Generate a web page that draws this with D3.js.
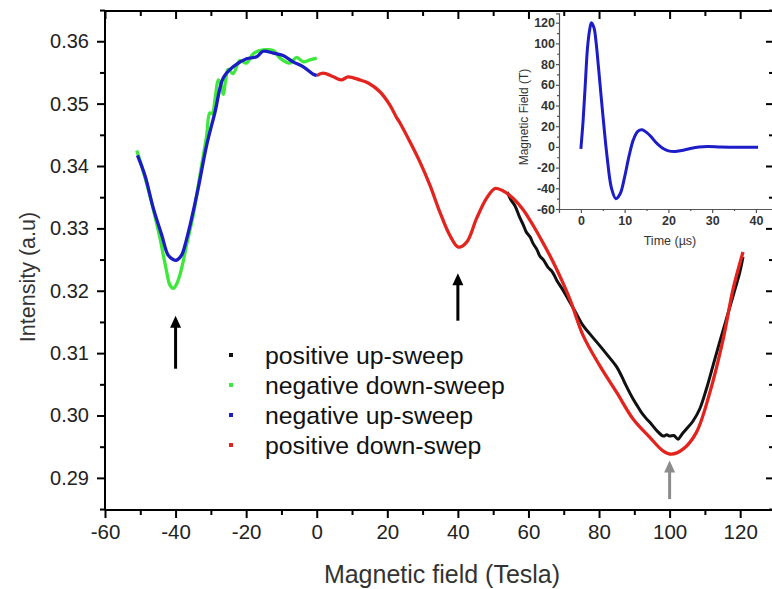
<!DOCTYPE html>
<html>
<head>
<meta charset="utf-8">
<script src="https://cdn.jsdelivr.net/npm/d3@7"></script>
<style>
    body { margin: 0; background: #fff; }
    text { font-family: Arial, 'Liberation Sans', sans-serif; }
</style>
</head>
<body>
<div id="chart"></div>
<script>
// [field (T), intensity]
const posUpSweep = [
    [54.0, 0.3358], [55.0, 0.3346], [56.2, 0.3336], [57.5, 0.3318], [58.5, 0.3306],
    [59.4, 0.3294], [60.5, 0.3286], [61.3, 0.3276], [62.4, 0.3266], [63.2, 0.3256],
    [64.3, 0.3249], [65.5, 0.3238], [66.8, 0.3230], [68.0, 0.3217], [69.8, 0.3201],
    [71.7, 0.3182], [73.5, 0.3164], [75.5, 0.3144], [77.8, 0.3128], [80.2, 0.3112],
    [82.5, 0.3096], [85.0, 0.3078], [86.5, 0.3062], [87.5, 0.3050], [89.7, 0.3026],
    [91.0, 0.3014], [92.0, 0.3005], [93.4, 0.2995], [94.4, 0.2989], [96.5, 0.2975],
    [98.2, 0.2967], [99.2, 0.2969], [100.0, 0.2967], [101.2, 0.2968], [102.4, 0.2962],
    [103.5, 0.2970], [104.7, 0.2978], [106.5, 0.2990], [108.5, 0.3010], [110.4, 0.3042],
    [112.3, 0.3080], [114.2, 0.3118], [116.1, 0.3155], [118.0, 0.3192], [119.9, 0.3230],
    [120.8, 0.3254]
];
const negDownSweep = [
    [-51.0, 0.3425], [-49.5, 0.3398], [-47.3, 0.3353], [-45.8, 0.3318], [-44.4, 0.3284],
    [-43.4, 0.3255], [-42.5, 0.3230], [-41.6, 0.3209], [-40.6, 0.3204], [-39.6, 0.3212],
    [-38.8, 0.3225], [-37.8, 0.3248], [-36.9, 0.3273], [-35.0, 0.3321], [-33.1, 0.3385],
    [-31.2, 0.3449], [-30.3, 0.3485], [-29.6, 0.3484], [-28.8, 0.3508], [-27.9, 0.3538],
    [-27.2, 0.3532], [-26.5, 0.3515], [-25.8, 0.3538], [-25.1, 0.3555], [-23.7, 0.3548],
    [-21.8, 0.3569], [-19.9, 0.3565], [-18.0, 0.3580], [-15.2, 0.3586], [-12.3, 0.3585],
    [-10.4, 0.3573], [-7.6, 0.3565], [-5.7, 0.3574], [-3.8, 0.3567], [-1.9, 0.3570],
    [0.0, 0.3573]
];
const negUpSweep = [
    [-50.8, 0.3417], [-48.7, 0.3385], [-46.3, 0.3332], [-43.9, 0.3289], [-42.1, 0.3257],
    [-40.7, 0.3250], [-39.7, 0.3249], [-38.3, 0.3257], [-37.0, 0.3280], [-35.9, 0.3305],
    [-33.6, 0.3364], [-31.2, 0.3433], [-28.8, 0.3487], [-26.5, 0.3541], [-23.7, 0.3559],
    [-19.9, 0.3572], [-17.0, 0.3575], [-15.2, 0.3584], [-12.3, 0.3581], [-9.5, 0.3577],
    [-6.7, 0.3567], [-3.8, 0.3559], [-1.0, 0.3547], [0.0, 0.3545]
];
const posDownSweep = [
    [0.0, 0.3545], [1.8, 0.3549], [4.7, 0.3543], [7.1, 0.3538], [8.9, 0.3543],
    [12.2, 0.3538], [14.6, 0.3533], [17.9, 0.3519], [20.7, 0.3498], [22.6, 0.3478],
    [23.6, 0.3469], [26.4, 0.3439], [29.2, 0.3407], [32.1, 0.3369], [34.9, 0.3326],
    [37.7, 0.3289], [40.1, 0.3270], [42.5, 0.3278], [45.3, 0.3316], [48.1, 0.3348],
    [50.5, 0.3364], [52.5, 0.3361], [55.7, 0.3348], [58.5, 0.3330], [61.3, 0.3305],
    [64.2, 0.3276], [67.0, 0.3246], [71.7, 0.3187], [75.5, 0.3128], [80.2, 0.3080],
    [85.0, 0.3037], [89.7, 0.2994], [94.4, 0.2965], [98.2, 0.2943], [100.5, 0.2938],
    [103.8, 0.2946], [107.6, 0.2973], [111.4, 0.3037], [115.2, 0.3123], [118.0, 0.3203],
    [120.8, 0.3262]
];

// inset: [time (us), field (T)]
const pulse = [
    [0, -2], [0.5, 25], [1, 60], [1.5, 95], [2, 113], [2.4, 120], [3, 115], [3.5, 100],
    [4, 78], [5, 32], [6, -10], [7, -40], [8, -50], [9, -45], [10, -29], [11, -9],
    [12, 7], [13, 15], [14, 16.5], [15, 14], [16, 10], [17, 5], [18, 1], [19, -2],
    [20, -3.8], [21.5, -4.5], [23, -3.5], [25, -1.5], [27, 0], [29, 0.5], [32, 0],
    [36, -0.3], [40.5, -0.3]
];

const seriesNames = ['positive up-sweep', 'negative down-sweep', 'negative up-sweep', 'positive down-swep'];
const seriesColors = ['#111111', '#3ee83a', '#1c1cc4', '#e3231d'];

// arrows: field, tail intensity, tip intensity
const arrows = [
    { x: -40, from: 0.3075, to: 0.3160, color: '#000' },
    { x: 40, from: 0.3152, to: 0.3228, color: '#000' },
    { x: 100, from: 0.2866, to: 0.2928, color: '#8c8c8c' }
];

const W = 772;
const H = 589;
const margin = { top: 11, right: -1, bottom: 79, left: 105 };

const svg = d3
    .select('#chart')
    .append('svg')
    .attr('width', W)
    .attr('height', H);

const x = d3.scaleLinear().domain([-60, 129.3]).range([margin.left, W - margin.right]);
const y = d3.scaleLinear().domain([0.28485, 0.36485]).range([H - margin.bottom, margin.top]);

const xMajor = d3.range(-60, 121, 20);
const xMinor = d3.range(-50, 130, 20);
const yMajor = d3.range(0.29, 0.3601, 0.01);
const yMinor = d3.range(0.285, 0.365, 0.01);

// frame
const frame = svg.append('g').attr('stroke', '#000').attr('stroke-width', 2);
frame.append('line').attr('x1', x(-60)).attr('x2', x(-60)).attr('y1', y.range()[1]).attr('y2', y.range()[0]);
frame.append('line').attr('x1', x(-60)).attr('x2', W + 2).attr('y1', y.range()[0]).attr('y2', y.range()[0]);
frame.append('line').attr('x1', x(-60)).attr('x2', W + 2).attr('y1', y.range()[1]).attr('y2', y.range()[1]);
frame.append('line').attr('x1', x.range()[1]).attr('x2', x.range()[1]).attr('y1', y.range()[1]).attr('y2', y.range()[0]);

// bottom axis
svg.append('g')
    .attr('transform', 'translate(0,' + y.range()[0] + ')')
    .call(d3.axisBottom(x).tickValues(xMajor).tickSize(8).tickPadding(6).tickFormat(d3.format('d')))
    .call(g => g.select('.domain').remove())
    .call(g => g.selectAll('line').attr('stroke-width', 2))
    .call(g => g.selectAll('text').attr('font-size', 20.5).attr('fill', '#222').text(d => String(d)));
svg.append('g')
    .attr('transform', 'translate(0,' + y.range()[0] + ')')
    .call(d3.axisBottom(x).tickValues(xMinor).tickSize(5).tickFormat(''))
    .call(g => g.select('.domain').remove())
    .call(g => g.selectAll('line').attr('stroke-width', 2));

// top axis, ticks inward
svg.append('g')
    .attr('transform', 'translate(0,' + y.range()[1] + ')')
    .call(d3.axisBottom(x).tickValues(xMajor).tickSize(8).tickFormat(''))
    .call(g => g.select('.domain').remove())
    .call(g => g.selectAll('line').attr('stroke-width', 2));
svg.append('g')
    .attr('transform', 'translate(0,' + y.range()[1] + ')')
    .call(d3.axisBottom(x).tickValues(xMinor).tickSize(5).tickFormat(''))
    .call(g => g.select('.domain').remove())
    .call(g => g.selectAll('line').attr('stroke-width', 2));

// left axis
svg.append('g')
    .attr('transform', 'translate(' + x.range()[0] + ',0)')
    .call(d3.axisLeft(y).tickValues(yMajor).tickSize(8).tickPadding(8).tickFormat(d3.format('.2f')))
    .call(g => g.select('.domain').remove())
    .call(g => g.selectAll('line').attr('stroke-width', 2))
    .call(g => g.selectAll('text').attr('font-size', 20).attr('fill', '#222'));
svg.append('g')
    .attr('transform', 'translate(' + x.range()[0] + ',0)')
    .call(d3.axisLeft(y).tickValues(yMinor).tickSize(5).tickFormat(''))
    .call(g => g.select('.domain').remove())
    .call(g => g.selectAll('line').attr('stroke-width', 2));

// right axis, ticks inward
svg.append('g')
    .attr('transform', 'translate(' + x.range()[1] + ',0)')
    .call(d3.axisLeft(y).tickValues(yMajor).tickSize(7).tickFormat(''))
    .call(g => g.select('.domain').remove())
    .call(g => g.selectAll('line').attr('stroke-width', 2));
svg.append('g')
    .attr('transform', 'translate(' + x.range()[1] + ',0)')
    .call(d3.axisLeft(y).tickValues(yMinor).tickSize(4).tickFormat(''))
    .call(g => g.select('.domain').remove())
    .call(g => g.selectAll('line').attr('stroke-width', 2));

// axis titles
svg.append('text')
    .attr('x', 442)
    .attr('y', 583)
    .attr('text-anchor', 'middle')
    .attr('font-size', 25)
    .attr('fill', '#333')
    .text('Magnetic field (Tesla)');
svg.append('text')
    .attr('transform', 'translate(35,277) rotate(-90)')
    .attr('text-anchor', 'middle')
    .attr('font-size', 21.5)
    .attr('fill', '#333')
    .text('Intensity (a.u)');

// curves
const line = d3
    .line()
    .x(d => x(d[0]))
    .y(d => y(d[1]))
    .curve(d3.curveCatmullRom.alpha(0.5));

const drawOrder = [
    { data: posUpSweep, i: 0, w: 3 },
    { data: posDownSweep, i: 3, w: 3.3 },
    { data: negDownSweep, i: 1, w: 3.3 },
    { data: negUpSweep, i: 2, w: 3.3 }
];
svg.append('g')
    .selectAll('path')
    .data(drawOrder)
    .enter()
    .append('path')
    .attr('d', d => line(d.data))
    .attr('fill', 'none')
    .attr('stroke', d => seriesColors[d.i])
    .attr('stroke-width', d => d.w)
    .attr('stroke-linejoin', 'round');

// arrows
const arrowG = svg.append('g');
arrows.forEach(a => {
    const ax = x(a.x);
    const tip = y(a.to);
    arrowG.append('line')
        .attr('x1', ax).attr('x2', ax)
        .attr('y1', y(a.from)).attr('y2', tip + 8)
        .attr('stroke', a.color)
        .attr('stroke-width', 3);
    arrowG.append('path')
        .attr('d', 'M' + ax + ',' + tip + 'L' + (ax - 5.5) + ',' + (tip + 12) + 'L' + (ax + 5.5) + ',' + (tip + 12) + 'Z')
        .attr('fill', a.color);
});

// legend
const legend = svg.append('g').attr('transform', 'translate(231,355)');
const rows = legend
    .selectAll('g')
    .data(seriesNames)
    .enter()
    .append('g')
    .attr('transform', (_d, i) => 'translate(0,' + i * 30 + ')');
rows.append('rect')
    .attr('x', -2)
    .attr('y', -2)
    .attr('width', 4)
    .attr('height', 4)
    .attr('fill', (_d, i) => seriesColors[i]);
rows.append('text')
    .attr('x', 34)
    .attr('dy', '0.35em')
    .attr('font-size', 24.8)
    .attr('fill', '#111')
    .text(d => d);

// inset
const ix = d3.scaleLinear().domain([-5, 44.5]).range([559, 775.6]);
const iy = d3.scaleLinear().domain([-60, 129]).range([209, 13.4]);
const inset = svg.append('g');
const insetColor = '#555';

inset.append('g')
    .attr('transform', 'translate(0,' + iy(-60) + ')')
    .call(d3.axisBottom(ix).tickValues(d3.range(0, 41, 10)).tickSize(4).tickPadding(3))
    .call(g => g.select('.domain').attr('stroke', insetColor).attr('stroke-width', 1.2))
    .call(g => g.selectAll('line').attr('stroke', insetColor).attr('stroke-width', 1.2))
    .call(g => g.selectAll('text').attr('font-size', 12.5).attr('font-weight', 'bold').attr('fill', '#333'));
inset.append('g')
    .attr('transform', 'translate(0,' + iy(-60) + ')')
    .call(d3.axisBottom(ix).tickValues(d3.range(5, 45, 10)).tickSize(2).tickFormat(''))
    .call(g => g.select('.domain').remove())
    .call(g => g.selectAll('line').attr('stroke', insetColor).attr('stroke-width', 1.2));
inset.append('g')
    .attr('transform', 'translate(' + ix(-5) + ',0)')
    .call(d3.axisLeft(iy).tickValues(d3.range(-60, 121, 20)).tickSize(3).tickPadding(1))
    .call(g => g.select('.domain').attr('stroke', insetColor).attr('stroke-width', 1.2))
    .call(g => g.selectAll('line').attr('stroke', insetColor).attr('stroke-width', 1.2))
    .call(g => g.selectAll('text').attr('font-size', 12.5).attr('font-weight', 'bold').attr('fill', '#333').text(d => String(d)));
inset.append('g')
    .attr('transform', 'translate(' + ix(-5) + ',0)')
    .call(d3.axisLeft(iy).tickValues(d3.range(-50, 121, 20)).tickSize(2).tickFormat(''))
    .call(g => g.select('.domain').remove())
    .call(g => g.selectAll('line').attr('stroke', insetColor).attr('stroke-width', 1.2));

inset.append('text')
    .attr('x', 670)
    .attr('y', 245)
    .attr('text-anchor', 'middle')
    .attr('font-size', 12.5)
    .attr('fill', '#333')
    .text('Time (\u00b5s)');
inset.append('text')
    .attr('transform', 'translate(528,117) rotate(-90)')
    .attr('text-anchor', 'middle')
    .attr('font-size', 12)
    .attr('fill', '#333')
    .text('Magnetic Field (T)');

inset.append('path')
    .datum(pulse)
    .attr('d', d3.line().x(d => ix(d[0])).y(d => iy(d[1])).curve(d3.curveCatmullRom.alpha(0.5)))
    .attr('fill', 'none')
    .attr('stroke', '#1c1cc8')
    .attr('stroke-width', 3)
    .attr('stroke-linejoin', 'round');
</script>
</body>
</html>
